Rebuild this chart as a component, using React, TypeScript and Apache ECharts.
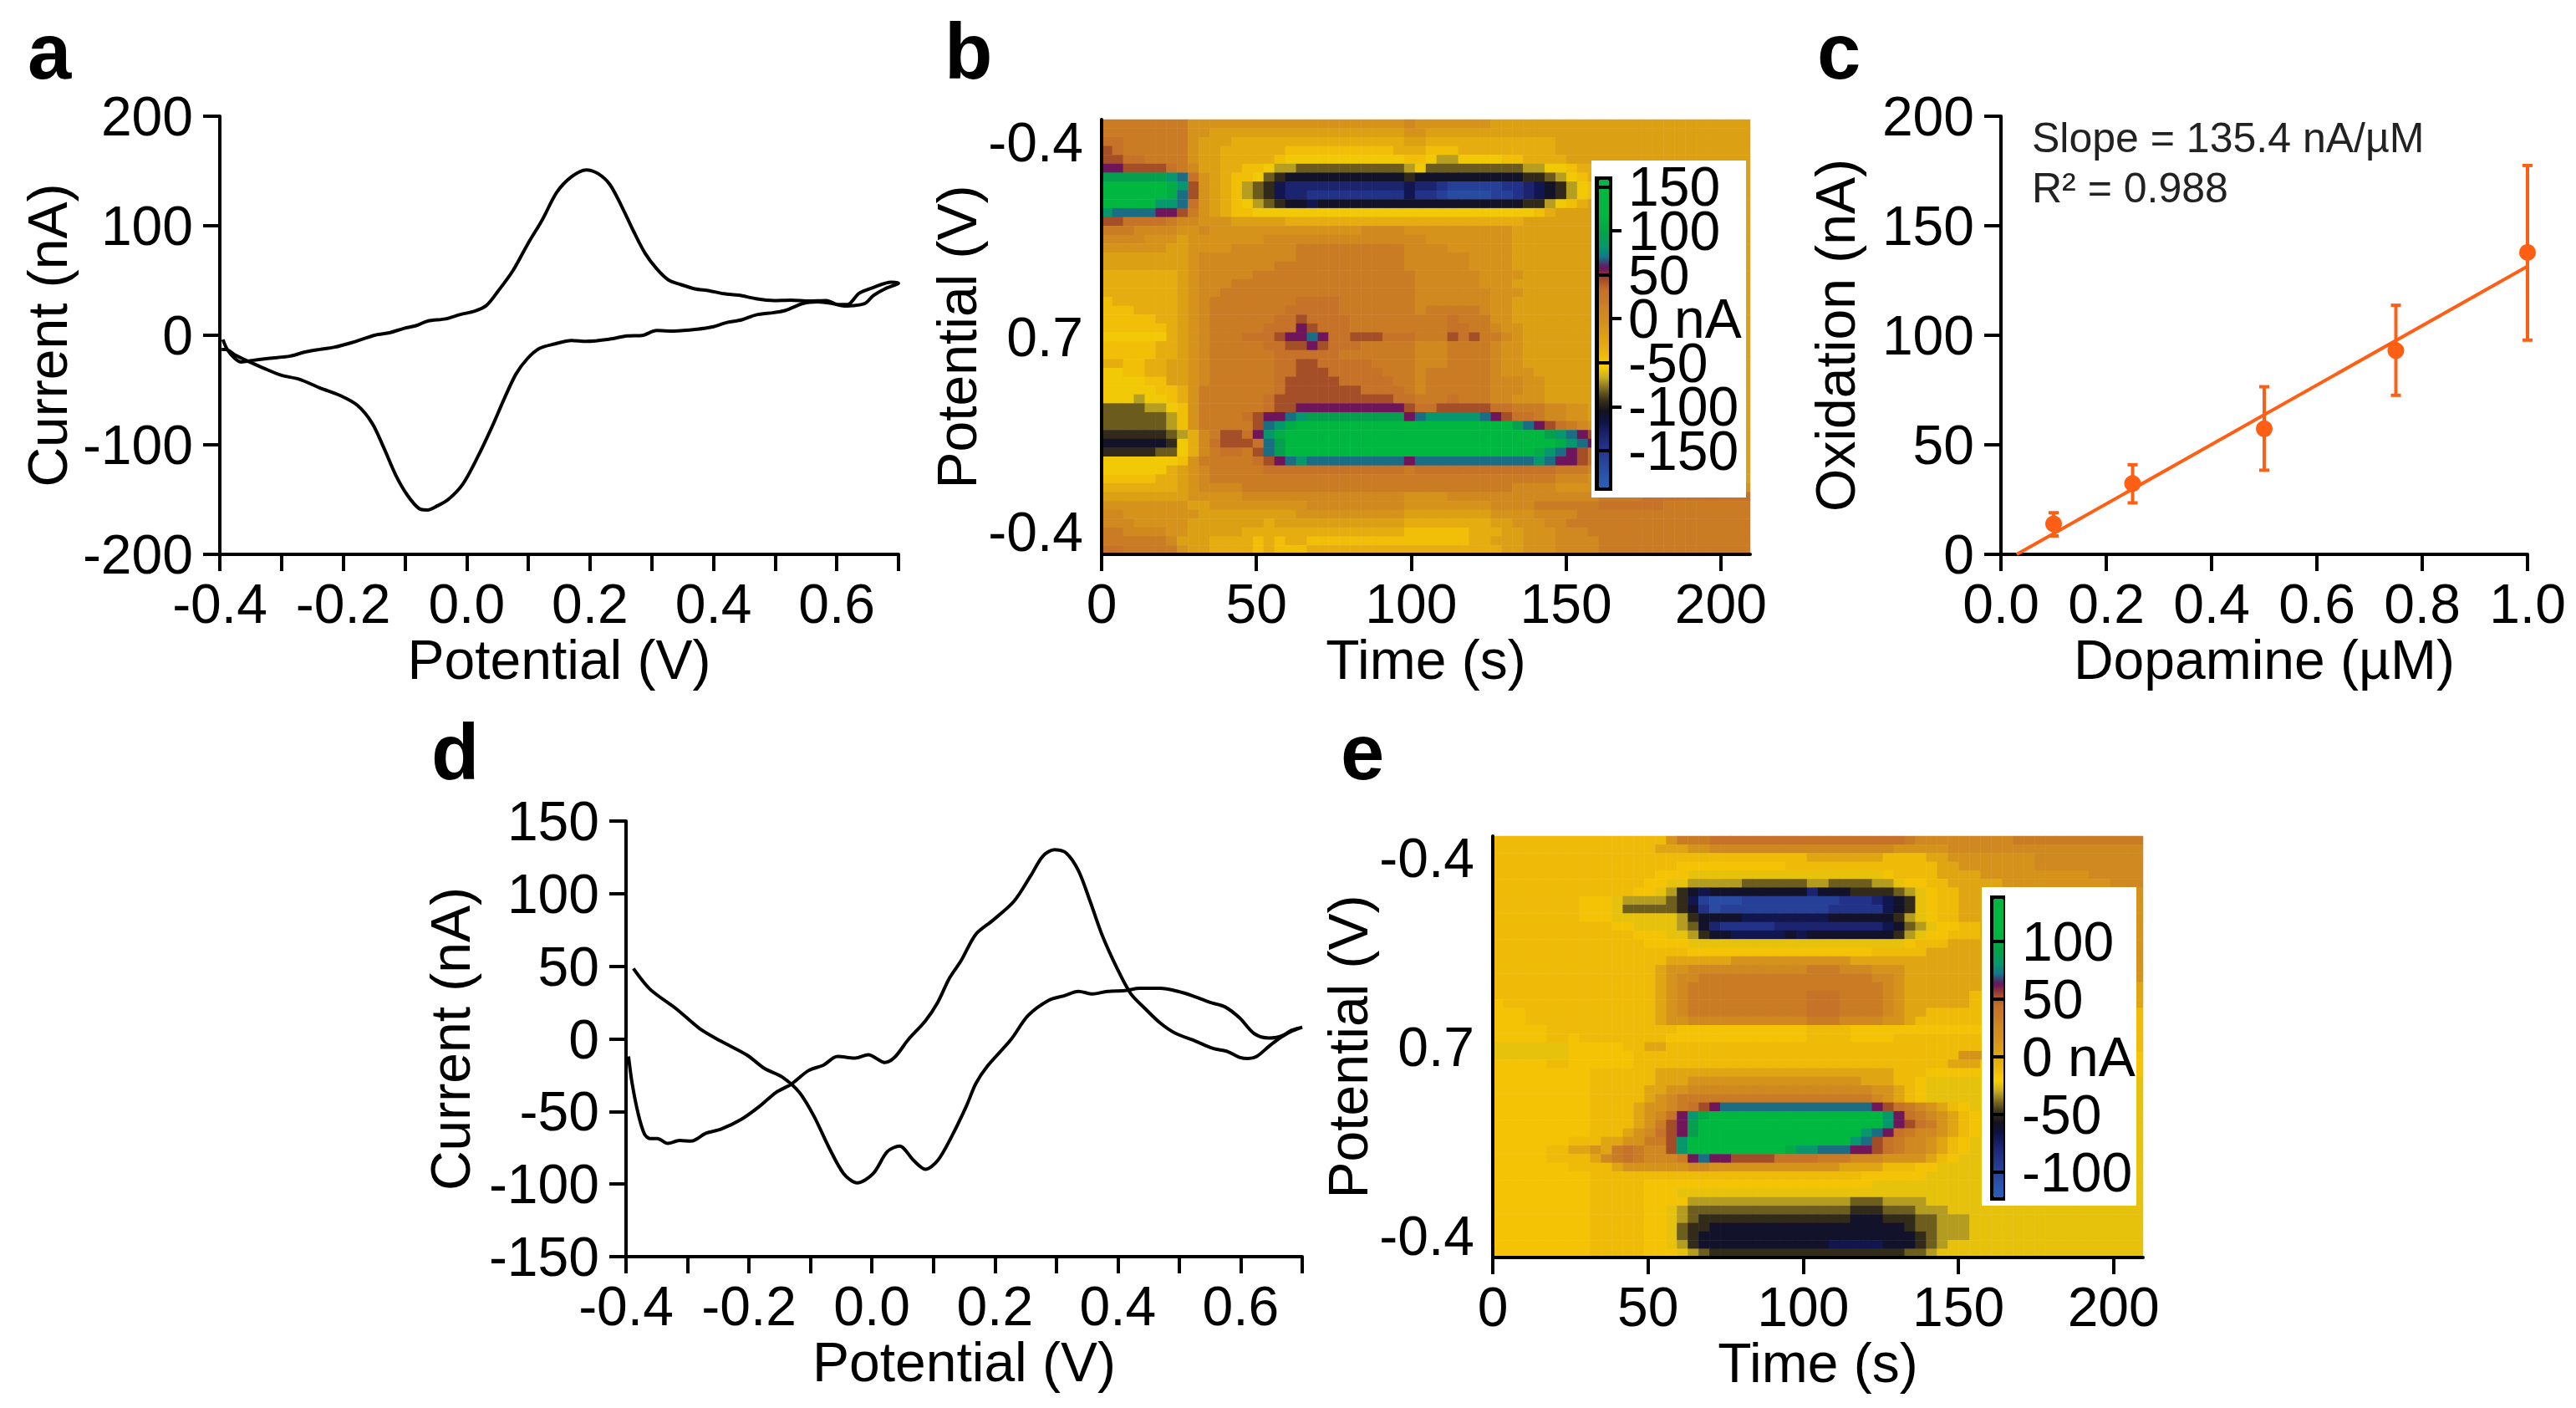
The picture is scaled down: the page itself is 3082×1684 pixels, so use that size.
import React, { useEffect, useRef } from "react";
import * as echarts from "echarts";

const FONT = "Liberation Sans";
const TICK_SIZE = 66;

// Panel a: cyclic voltammogram [potential V, current nA]
const voltA = [-0.395,-0.388,-0.376,-0.365,-0.348,-0.319,-0.286,-0.262,-0.238,-0.215,-0.186,-0.148,-0.125,-0.101,-0.082,-0.063,-0.034,-0.01,0.013,0.032,0.051,0.075,0.099,0.123,0.146,0.17,0.194,0.213,0.232,0.251,0.27,0.289,0.308,0.327,0.346,0.37,0.393,0.417,0.441,0.469,0.498,0.526,0.555,0.583,0.602,0.617,0.636,0.659,0.688,0.7,0.678,0.659,0.645,0.612,0.593,0.569,0.545,0.517,0.498,0.469,0.446,0.422,0.398,0.374,0.336,0.308,0.284,0.26,0.232,0.194,0.17,0.142,0.118,0.099,0.08,0.061,0.042,0.018,-0.006,-0.03,-0.049,-0.063,-0.077,-0.096,-0.115,-0.134,-0.153,-0.177,-0.205,-0.238,-0.272,-0.3,-0.329,-0.357,-0.376,-0.39,-0.397];
const currA = [-3.9,-12.9,-21,-24.4,-23,-21,-19,-15.3,-12.9,-11,-6.7,0.2,2.3,6.4,8.8,13,15,19,22,27.2,40.3,59,83.3,105.8,130.4,144.7,151,147.6,137.8,118.1,95.6,75.1,60.8,50.6,46.5,42.4,40.7,37.9,36.6,33.4,31.7,32.1,31.3,31.7,28,28,38.3,43.6,48.5,47.7,42.4,36.2,28.9,26.8,29,30.5,29,22.7,20.7,18.6,14.1,11.7,7.6,5.5,3.9,4.3,-0.2,-0.6,-3.5,-5.5,-4.7,-8,-12,-21,-35.4,-57.9,-82.5,-111,-135.7,-150,-156.2,-159.5,-158.2,-146,-127.5,-103,-80.4,-64,-55,-48,-40,-36.6,-30,-23,-17.8,-12.9,-12.9];

// Panel d: cyclic voltammogram
const voltD = [-0.396,-0.39,-0.38,-0.37,-0.361,-0.349,-0.332,-0.313,-0.294,-0.27,-0.246,-0.213,-0.184,-0.156,-0.132,-0.103,-0.079,-0.056,-0.027,-0.006,0.021,0.037,0.059,0.087,0.107,0.126,0.145,0.169,0.197,0.231,0.259,0.278,0.297,0.316,0.336,0.355,0.374,0.398,0.421,0.445,0.469,0.493,0.526,0.555,0.579,0.598,0.612,0.626,0.646,0.665,0.684,0.7,0.684,0.665,0.646,0.622,0.598,0.574,0.55,0.522,0.498,0.469,0.436,0.412,0.383,0.359,0.336,0.312,0.288,0.254,0.226,0.188,0.169,0.154,0.13,0.107,0.087,0.068,0.045,0.025,0.002,-0.024,-0.046,-0.07,-0.094,-0.118,-0.146,-0.175,-0.203,-0.246,-0.28,-0.318,-0.361,-0.388];
const currD = [-12.1,-30.8,-52,-65.6,-68.6,-68.6,-72,-70,-70.4,-65,-62.3,-55.6,-46.9,-36.9,-31.4,-21.8,-18.1,-12.1,-13.3,-10.9,-16.3,-12.7,-0.6,12.4,25.1,41.7,53.8,72,81.7,94.7,112.8,125.8,130.3,128,115.8,94.7,72,49.3,31.2,20.6,10.9,4,-1.5,-6.6,-8.8,-12.7,-13.6,-12.1,-5.1,1,5.5,8,6.1,1.8,0.6,3.6,14.5,22.1,25.1,29.6,32.7,34.8,34.8,33.3,32.7,30.9,32.7,29.6,26.6,16,-0.6,-18.7,-30.8,-46,-67,-83.8,-89.8,-83.8,-73.8,-77.7,-92.8,-99.2,-92.8,-74.7,-53.5,-36.9,-26.3,-20.3,-11.2,-1.5,7,20.6,34.2,48.4];

// Panel c: calibration
const dopamine = [0.1, 0.25, 0.5, 0.75, 1.0];
const oxidation = [13.9, 32.3, 57.3, 93, 137.8];
const errLow = [8.4, 23.5, 38.4, 72.6, 97.8];
const errHigh = [19, 40.9, 76.5, 113.7, 177.5];
const fitX = [0.03, 1.0];
const fitY = [0, 131.5];

// Tick lists
const cvTicks = [-0.4,-0.3,-0.2,-0.1,0,0.1,0.2,0.3,0.4,0.5,0.6,0.7];
const cvLabels = [-0.4,-0.2,0,0.2,0.4,0.6];
const timeTicks = [0,50,100,150,200];
// Colour-bar ticks of panel b, on two axes so that the tight labels all stay
const barTicksBOdd = [-150,-50,50,150];
const barTicksBEven = [-100,0,100];
const barTicksE = [-100,-50,0,50,100];

// Colour-plot palette, from the bottom of the colour bar to its top
const ramp = ["#2a5cb4","#2a56ae","#28489e","#253a94","#222e84","#1a2068","#0e1244","#14121f","#3a3219","#7e6c20","#c8ae20","#fbd000","#eeb90a","#e3aa10","#db9e15","#d3901c","#cf8820","#c97a25","#c57028","#a04a28","#6a1060","#107a88","#059a6a","#05a04c","#02ae44","#00b840","#00b840","#00b840","#00b840"];

const codes = "abcdefghijklmnopqrstuvwxy";
const levelsB = [-184,-171,-159,-146,-133,-121,-108,-95,-83,-70,-57,-45,-32,-19,-7,6,19,31,44,57,69,82,95,107,120];
const levelsE = [-116,-106,-98,-88,-78,-69,-60,-50,-41,-32,-24,-15,-12,2,15,25,34,43,53,62,71,81,90,99,109];

const rowLabels = new Map([[2, "-0.4"], [24, "0.7"], [46, "-0.4"]]);

// Panel b: 49 potential rows (top to bottom) × 60 time columns
const gridB = [
"qqqqqqqqoo oooooooooo oooooooopo oooooonnnn nnnnnnnnnn nnnnnnnnnn",
"qqqqqqqqoo nnnnnnnnnn nnnnnnnnoo nnnnnnnnnn nnnnnnnnnn nnnnnnnnnn",
"rrqqqqqqon nnmmmmmmmm mmmmmmmmnn mmmmmmmmmm mmnnnnnnnn nnnnnnnnnn",
"srqqqqqqon nmmmmmmlll lllllllmmm lllmmmmmmm mmnnnnnnnn nnnnnnnnnn",
"ssrrqqqqon nmmmmmlkkk kkkkkkkkll kjjkkkkllm mmmnnnnnnn nnnnnnnnnn",
"ttssssrqpn nmmllkjjii iiiiiiiijk iiiiiiiiij jkklmmnnnn nnnnnnnnnn",
"wwwwwwvuro nmllkihggg gggggggghg gggggggggh hijklmnnnn nnnnnnnnnn",
"yyyyyyxvso nmljihfeee eeeeeeeefe edcccccdde fghjklmnnn nnnnnnnnnn",
"yyyyyyxuso nmljihfeed ddddddddfd dcbbbbccde fghjklmnnn nnnnnnnnnn",
"yyyyyvvuro nmlkjihggf gggggggggg gggggggggh hjklmnnnnn nnnnnnnnnn",
"vuuuuttsqo nmllkkkkkk kkkkkkkkkk kkkkkkkkkk lmnnnnnnnn nnnnnnnnnn",
"ssrrrrqppo oonnnnnmmm mmmmmmmmmm mmmmmmmmmn nnnnnnnnnn nnnnnnnnnn",
"qqqppppoop oooooooooo ooooppppoo oooooooonn nnnnnnnnnn nnnnnnnnnn",
"ppppooonoo oooooppppp pppppppppp oooooooonn nnnnnnnnnn nnnnnnnnnn",
"oooooonnoo ooppppppqq qqqqqqqqpp ppoooooonn nnnnnnnnnn nnnnnnnnnn",
"nnnnnnnnop ppppppppqq qqqqqqqqpp ppppoooonn nnnnnnnnnn nnnnnnnnnn",
"nnnnnnnnop ppppppqqqq qqqqqqqqpp ppppoooonn nnnnnnnnnn nnnnnnnnnn",
"mmmmmmmnop ppppqqqqqq qqqqqqqqqp pppppoooon nnnnnnnnnn nnnnnnnnnn",
"mmmmmmmnop ppqqqqqqqq qqqqqqqqqp pppppooonn nnnnnnnnnn nnnnnnnnnn",
"mmmmmmmnop pqqqqqqqqq qqqqqqqqqp ppppppooon nnnnnnnnnn nnnnnnnnnn",
"lmmmmmmnop qqqqqqqqrr rrqqqqqqqp ppppppoonn nnnnnnnnnn nnnnnnnnnn",
"lllmmmmnop qqqqqqqrrr rrqqqqqqqp qqqqqpoonn nnnnnnnnnn nnnnnnnnnn",
"lllllmmnop qqqqqqrrsr rrrqqqqqqq qqrqqqoonn nnnnnnnnnn nnnnnnnnnn",
"llllllmnop qqqqqrrrts rrrqqqqqqq qqrrqqpoon nnnnnnnnnn nnnnnnnnnn",
"kkkkkkmnop qqqrrrsttu trrsssrrrq qqsrsqqpon nnnnnnnnnn nnnnnnnnnn",
"lllllmmnop qqqqqrrsst srrrqqqqqp ppqqqqpoon nnnnnnnnnn nnnnnnnnnn",
"lllllmmnop qqqqqqrrrr rrqqqqqqqp ppqqqqpoon nnnnnnnnnn nnnnnnnnnn",
"mmllmmnnop qqqqqqrrss rrrrrqqqqp ppqqqqpoon nnnnnnnnnn nnnnnnnnnn",
"kkllmmnnop qqqqqqrrss srrrrrqqqp qqqqqqpooo nnnnnnnnnn nnnnnnnnnn",
"kkkkllnnop qqqqqqrsss ssrrrrrqqp qqqqqqpppo onnnnnnnnn nnnnnnnnnn",
"kkkkkllmoq qqqqqqrsss ssssrrrrqp qqqqqqpppo onnnnnnnnn nnnnnnnnnn",
"kkkjkklmoq qqqqqrssss sssssssrrq qqrqqqppoo onnnnnnnnn nnnnnnnnnn",
"iiiijjkloq qqqqqrsstt ttttttttsr rsssssrrqq qppoonnnnn nnnnnnnnnn",
"iiiiiijloq qqqrsttuvw wwwwwwwwtu vvvvvutsrr qppoonnnnn nnnnnnnnnn",
"iiiiiijloq qqqqsuvxyy yyyyyyyyyy yyyyyyyywu tsrqpoonnn nnnnnnnnnn",
"hhhhhhijmp qssrtvxyyy yyyyyyyyyy yyyyyyyyyy ywvutsqpoo nnnnnnnnnn",
"gggggghkmp rsssruwyyy yyyyyyyyyy yyyyyyyyyy yyxvutsqoo nnnnnnnnnn",
"hhhhhiikmp qrrqsuwyyy yyyyyyyyyy yyyyyyyyyy xvutsrqpoo nnnnnnnnnn",
"kkkkkkkloq qqqqrstuvu uuuuuuuutu uuuuuuuuuu vuttsrqpoo nnnnnnnnnn",
"kkkkkkmnop qqqqqrrrrr rrrrrrrrqr rrrrrrrrrr rrqqqppoon nnnnnnnnnn",
"lllllmmnop qqqqqqqqqq qqqqqqqqqq qqqqqqqqqq qqpppooonn nnnnnnnnnn",
"mmmmmmmnop pppqqqqqqq qqqqqqqqqq qqqqqqqqpp ppoooooooo oooooooooo",
"nnnnnnnnoo oooppppppp ppppppppoo oopppppppp ppppppqqqq rrrrrrrrrr",
"oooooooonn ooooooooop ppppppppoo oooooopppp qqqqqqrrrr rrqqqqqqqq",
"ppooooooon nnnnnnnnoo oooooooonn nnnnnnoooo ppppqqqqqq qqqqqqqqqq",
"pppooooonn nnnnnmnnnn nnnnnnnnmm mmmmmmnnoo oppqqqqqqq qqqqqqqqqq",
"qqppppoonn nnnmmmmmmm mmmmmmmmll llllmmmnno oopppqqqqq qqqqqqqqqq",
"qqqqqqpnnn mmmmlmlmml llllllllll llllmmnnno ooppppqqqq qqqqqqqqqq",
"rrqqqqqonn mmmmlmlllm mmmmmmmmmm mmmmmmmnno ooppppqqqq qqqqqqqqqq",
];

// Panel e: 49 potential rows (top to bottom) × 60 time columns
const gridE = [
"mmmmmmmmmm mmmmmmoqqq rrrrrrrrrr rrrrrrrrqp ppppppppqq qqqqqqqqqq",
"mmmmmmmmmm mmmmmnnnoo pppppppppp pppppppooo oopppppppp pppppppppp",
"mmmmmmmmmm mmmmmmmmmm mmmmmmmmmn nnnnnnmmmm nnoooooooo pppppppppp",
"mmmmmmmmmm mmmmmmmlll lllllllmmm mmmmmmmmmm mnnooooooo pppppppppp",
"mmmmmmmmmm mmmmmlllkk kkkkkkkkkk kkkkkklmmm mnnnnooooo oooooppppp",
"mmmmmmmmmm mmmmllkkjj jjjiiiiiij jiiiijjkll mmnnnnnooo oooooooppp",
"mmmmmmmmmm mmmllkjhgf ggggggggge ggghhhhijk lmmnnnnnoo oooooooooo",
"mmmmmmmmll lkjjjjihfc bbbccccccc ccdddefghk lmmnnnnnoo oooooooooo",
"mmmmmmmmll lkiiiiihgd bccccccccc cdddddfghk lmmnnnnnoo oooooooooo",
"mmmmmmmmll lkkkkkkjhg gggfffffff fgggggghjk lmmnnnoooo oooooooooo",
"mmmmmmmmmm mllkkkkjig edddddeeee eeeeeefgij kllmmnnooo oooooooooo",
"mmmmmmmmmm mmmlllkkjh ggfffffgfg ggggggghjk llmmmnnnoo oooooooooo",
"mmmmmmmmmm mmmmllllkk kkkkkkkkkk kkkkkkkklm mmnnnnoooo oooooooooo",
"mmmmmmmmmm mmmmmmmmll llllllllll lllllmmmmm nnnnnnoooo oooooooooo",
"mmmmmmmmmm mmmmmmnnnn nnoooooooo ooonnnnnnn nnnnnnoooo oooooooooo",
"mmmmmmmmmm mmmmmnoopp pppppppppq qqpppooonn nnnnnnnnoo oooooooooo",
"mmmmmmmmmm mmmmmnoppq qqqqqqqqqq qqqqqpponn nnnnnnnnoo oooooooooo",
"mmmmmmmmmm mmmmmnopqq qqqqqqqqqq qqqqqqponn nnnnnnnnnn nnnnnnnnnn",
"mmmmmmmmmm mmmmmnopqq qqqqqqqqqr rrqqqqponn nnnnmmmmmm nnnnnnnnnn",
"lmmmmmmmmm mmmmmnopqq qqqqqqqqqr rrqqqqponn nnnnmmmmmm nnnnnnnnnn",
"lllmmmmmmm mmmmmnopqq qqqqqqqqqr rrqqqqponn mmmmmmmmmm mmmmmmmmmm",
"lllmmmmmmm mmmmmnoopp pppppppppq qqppppoonm mmmmmmmmmm mmmmmmmmmm",
"lllllmmmmm mmmmmmmlll lllllllllm mmmlllllll lllllllmmm mmmmmmmmmm",
"lllllmmlmm mmmmmmllll lllllllllm mmmllllmmm mmmmmmmmmm mmmmmmmmmm",
"kkkkkkklll llmmnnmmmm mmmmmmmmmm mmmmmmmmmm mmmmmmmmmm mmmmmmmmmm",
"kkkkkkklll lllmmmmmmm mmmmmmmmmm mmmmmmmmmm mmmooolllk llllllllll",
"lllllmmlll lllmmmmmmm mmmmmmmmmm mmmmmmmmmm mmnnnlllll llllllllll",
"lllllllllm mmmmmnnnnn nnnnnnnnnn nnnnnnnmmm llllllllll llllllllll",
"lllllllllm mmmmmnnnoo oooooooooo oooonnnmml kkkkkkkkkk kkkkkkkkkk",
"lllllllllm mmmmnnoopp pppppppppp pppppoonml kkkkkkkkkk kkkkkkkkkk",
"lllllllllm mmmmnopqqq qqqqqqqqqq qqqqqponml kkkkkkkkkk kkkkkkkkkk",
"lllllllllm mmmnoopqrs tuuuuuuuuu uuuuutsrqp onmlkkkkkk kkkkkkkkkk",
"lllllllllm mmmnoprtvx yyyyyyyyyy yyyyyyvtrq ponmlkkkkk kkkkkkkkkk",
"lllllllllm mmmnoqstwy yyyyyyyyyy yyyyyyvtsr qonmlkkkkk kkkkkkkkkk",
"lllllllllm mmnoprstwy yyyyyyyyyy yyyyvutrqp ponmlkkkkk kkkkkkkkkk",
"lllllllmmm nnooqqsvyy yyyyyyyyyy yyyvusrqpp onmlkkkkkk kkkkkkkkkk",
"lllllmmnno nqrqppsvyy yyyyyyyxvv uuuttsrqpp onmlkkkkkk kkkkkkkkkk",
"lllllmmmmn pqrqpppqtu ttssssrrrr qqqpppoooo nmlkkkkkkk kkkkkkkkkk",
"lllllllmmm mnoooooopp oooooooooo oonnnnmmml lkkkkkkkkk kkkkkkkkkk",
"lllllllllm mmmmmmmmmm mmmmmmmmmm mmmmllllll kkkkkkkkkk kkkkkkkkkk",
"lllllllllm mmmmllllll llllllllll lllllkkkkk kkkkkkkkkk kkkkkkkkkk",
"lllllllllm mmmmlllkkk kkkkkkkkkk kkkkkkkkkk kkkkkkkkkk kkkkkkkkkk",
"lllllllllm mmmmlllljj jjjjjjjjjj jjjiiijjjj kkkkkkkkkk kkkkkkkkkk",
"lllllllllm mmmmllkjii iiiiiiiiii iiihhhiiij jjkkkkkkkk kkkkkkkkkk",
"lllllllllm mmmmllkjih hhhhhhhhhh hhhggghhhi ijjjkkkkkk kkkkkkkkkk",
"lllllllllm mmmmllkihh gggggggggg gggggggghi ijjjkkkkkk kkkkkkkkkk",
"lllllllllm mmmmllkihg gggggggggg gggggggggh ijjjkkkkkk kkkkkkkkkk",
"lllllllllm mmmmllkjhg gggggggggg gfffffgggh ijkkkkkkkk kkkkkkkkkk",
"lllllllllm mmmmlllkji hhhhhhhhhh hhhhhhhhii jkkkkkkkkk kkkkkkkkkk",
];

function cells(rows: string[], levels: number[]) {
  const out: number[][] = [];
  rows.forEach((row, r) => {
    row.replace(/ /g, "").slice(0, 60).split("").forEach((c, t) => {
      out.push([t, r, levels[codes.indexOf(c)]]);
    });
  });
  return out;
}
const indices = (n: number) => Array.from({ length: n }, (_, i) => String(i));
const black = { color: "#000", width: 4 };
const tickLabel = (margin: number, extra: any = {}) => ({
  color: "#000", fontFamily: FONT, fontSize: TICK_SIZE, margin, ...extra,
});
const nameStyle = { color: "#000", fontFamily: FONT, fontSize: TICK_SIZE };

function valueAxis(gridIndex: number, o: any) {
  return {
    type: "value", gridIndex, splitLine: { show: false }, z: 3,
    axisLine: { show: true, onZero: false, lineStyle: black },
    axisTick: { show: true, length: 20, lineStyle: black },
    nameLocation: "center", nameTextStyle: nameStyle, ...o,
  };
}
const cvX = (g: number) => valueAxis(g, {
  min: -0.4, max: 0.7, name: "Potential (V)", nameGap: 88, position: "bottom",
  axisTick: { show: true, length: 20, lineStyle: black, customValues: cvTicks },
  axisLabel: tickLabel(26, { customValues: cvLabels, formatter: (v: number) => v.toFixed(1) }),
});
const timeX = (g: number) => valueAxis(g, {
  min: 0, max: 209.5, name: "Time (s)", nameGap: 88, position: "bottom",
  axisTick: { show: true, length: 20, lineStyle: black, customValues: timeTicks },
  axisLabel: tickLabel(26, { customValues: timeTicks }),
});
const hiddenX = (g: number) => ({ type: "value", gridIndex: g, min: 0, max: 1, show: false });
const catX = (g: number) => ({ type: "category", gridIndex: g, data: indices(60), show: false });
const catY = (g: number, gap: number) => ({
  type: "category", gridIndex: g, inverse: true, data: indices(49), z: 3,
  name: "Potential (V)", nameLocation: "center", nameGap: gap, nameTextStyle: nameStyle,
  axisLine: { show: true, lineStyle: { color: "#000", width: 4 } },
  axisTick: { show: false },
  axisLabel: tickLabel(22, { interval: 0, formatter: (_: string, i: number) => rowLabels.get(i) ?? "" }),
});
const barY = (g: number, min: number, max: number, ticks: number[], margin: number) => ({
  type: "value", gridIndex: g, position: "right", offset: 0, min, max, z: 6,
  splitLine: { show: false },
  axisLine: { show: false },
  axisTick: { show: true, length: 12, lineStyle: { color: "#000", width: 4 }, customValues: ticks },
  axisLabel: tickLabel(margin, { customValues: ticks, formatter: (v: number) => (v === 0 ? "0 nA" : String(v)) }),
});

function panelText(text: string, x: number, y: number) {
  return {
    type: "text", x, y, z: 3,
    style: { text, fontFamily: FONT, fontWeight: "bold", fontSize: 94, fill: "#000", verticalAlign: "bottom" },
  };
}
function noteText(text: string, x: number, y: number) {
  return {
    type: "text", x, y, z: 3,
    style: { text, fontFamily: FONT, fontSize: 50, fill: "#222", verticalAlign: "middle" },
  };
}

function buildOption(): any {
  return {
    animation: false,
    backgroundColor: "#fff",
    grid: [
      { left: 263, top: 139, width: 812, height: 524 },
      { left: 1318, top: 143, width: 776, height: 520 },
      { left: 1913, top: 215, width: 15, height: 368 },
      { left: 2394, top: 139, width: 630, height: 524 },
      { left: 749, top: 982, width: 809, height: 521 },
      { left: 1786, top: 1000, width: 778, height: 504 },
      { left: 2385, top: 1075, width: 14, height: 357 },
    ],
    xAxis: [
      cvX(0),
      catX(1), timeX(1), hiddenX(2),
      valueAxis(3, {
        min: 0, max: 1, interval: 0.2, name: "Dopamine (µM)", nameGap: 88, position: "bottom",
        axisLabel: tickLabel(26, { formatter: (v: number) => v.toFixed(1) }),
      }),
      cvX(4),
      catX(5), timeX(5), hiddenX(6),
    ],
    yAxis: [
      valueAxis(0, { min: -200, max: 200, interval: 100, name: "Current (nA)", nameGap: 173, axisLabel: tickLabel(32) }),
      catY(1, 128),
      barY(2, -192, 158, barTicksBOdd, 20),
      valueAxis(3, { min: 0, max: 200, interval: 50, name: "Oxidation (nA)", nameGap: 165, axisLabel: tickLabel(32) }),
      valueAxis(4, { min: -150, max: 150, interval: 50, name: "Current (nA)", nameGap: 177, axisLabel: tickLabel(32) }),
      catY(5, 125),
      barY(6, -122, 137, barTicksE, 20),
      barY(2, -192, 158, barTicksBEven, 20),
    ],
    visualMap: [
      { type: "continuous", seriesIndex: 1, min: -192, max: 158, inRange: { color: ramp }, calculable: false, padding: 0, itemWidth: 12, itemHeight: 368, left: 1913, top: 215, z: 5, text: ["", ""], showLabel: false, hoverLink: false },
      { type: "continuous", seriesIndex: 6, min: -122, max: 137, inRange: { color: ramp }, calculable: false, padding: 0, itemWidth: 12, itemHeight: 357, left: 2385, top: 1075, z: 5, text: ["", ""], showLabel: false, hoverLink: false },
    ],
    graphic: {
      z: 3,
      elements: [
        { type: "rect", z: 3, shape: { x: 1904, y: 192, width: 185, height: 403 }, style: { fill: "#fff" } },
        { type: "rect", z: 3, shape: { x: 2371, y: 1061, width: 185, height: 381 }, style: { fill: "#fff" } },
        { type: "rect", z: 3, shape: { x: 1908, y: 211, width: 21, height: 376 }, style: { fill: "#000" } },
        { type: "rect", z: 3, shape: { x: 2381, y: 1071, width: 18, height: 365 }, style: { fill: "#000" } },
        panelText("a", 33, 108),
        panelText("b", 1130, 108),
        panelText("c", 2174, 108),
        panelText("d", 516, 946),
        panelText("e", 1604, 946),
        noteText("Slope = 135.4 nA/µM", 2431, 165),
        noteText("R² = 0.988", 2431, 225),
      ],
    },
    series: [
      { type: "line", xAxisIndex: 0, yAxisIndex: 0, data: voltA.map((v, i) => [v, currA[i]]), showSymbol: false, smooth: 0.3, clip: false, lineStyle: { color: "#000", width: 4 } },
      { type: "heatmap", xAxisIndex: 1, yAxisIndex: 1, data: cells(gridB, levelsB), silent: true, progressive: 0 },
      {
        type: "custom", xAxisIndex: 4, yAxisIndex: 3, silent: true, clip: false, z: 3,
        data: dopamine.map((d, i) => [d, errLow[i], errHigh[i]]),
        renderItem: (_: any, api: any) => {
          const lo = api.coord([api.value(0), api.value(1)]);
          const hi = api.coord([api.value(0), api.value(2)]);
          const style = { stroke: "#ff5f14", lineWidth: 4, fill: "none" };
          return {
            type: "group",
            children: [
              { type: "line", shape: { x1: lo[0], y1: lo[1], x2: hi[0], y2: hi[1] }, style },
              { type: "line", shape: { x1: lo[0] - 6, y1: lo[1], x2: lo[0] + 6, y2: lo[1] }, style },
              { type: "line", shape: { x1: hi[0] - 6, y1: hi[1], x2: hi[0] + 6, y2: hi[1] }, style },
            ],
          };
        },
      },
      { type: "line", xAxisIndex: 4, yAxisIndex: 3, data: fitX.map((x, i) => [x, fitY[i]]), showSymbol: false, lineStyle: { color: "#ff5f14", width: 4 }, z: 3 },
      { type: "scatter", xAxisIndex: 4, yAxisIndex: 3, data: dopamine.map((d, i) => [d, oxidation[i]]), symbol: "circle", symbolSize: 20, itemStyle: { color: "#ff5f14", opacity: 1 }, clip: false, z: 4 },
      { type: "line", xAxisIndex: 5, yAxisIndex: 4, data: voltD.map((v, i) => [v, currD[i]]), showSymbol: false, smooth: 0.3, clip: false, lineStyle: { color: "#000", width: 4 } },
      { type: "heatmap", xAxisIndex: 6, yAxisIndex: 5, data: cells(gridE, levelsE), silent: true, progressive: 0 },
    ],
  };
}

export default function App() {
  const ref = useRef<HTMLDivElement>(null);
  useEffect(() => {
    const chart = echarts.init(ref.current!, undefined, { renderer: "svg" });
    chart.setOption(buildOption());
    return () => chart.dispose();
  }, []);
  return <div ref={ref} style={{ position: "absolute", left: 0, top: 0, width: 3082, height: 1684, background: "#fff" }} />;
}
